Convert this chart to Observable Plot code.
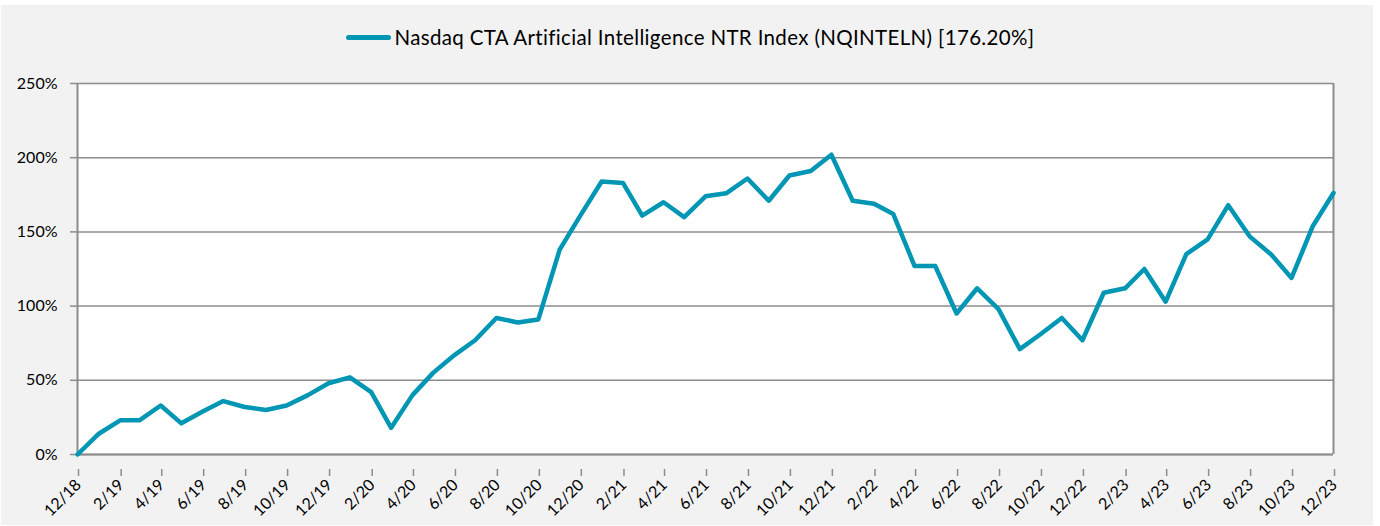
<!DOCTYPE html>
<html><head><meta charset="utf-8">
<script src="https://cdn.jsdelivr.net/npm/d3@7"></script>
<script src="https://cdn.jsdelivr.net/npm/@observablehq/plot@0.6"></script>
<style>
body{margin:0;background:#fff;width:1380px;height:526px;position:relative;overflow:hidden;font-family:Lato,sans-serif}
#bg{position:absolute;left:1px;top:5px;width:1372px;height:520px;background:#f2f2f2}
#legend{position:absolute;top:25px;left:0;width:1380px;display:flex;justify-content:center;align-items:center;font-size:20.5px;letter-spacing:0.35px;color:#000;white-space:nowrap}
#legend .sw{width:45px;height:5px;border-radius:3px;background:#0096b4;margin-right:4px}
#chart{position:absolute;left:0;top:70px}
</style></head>
<body>
<div id="bg"></div>
<div id="legend"><span class="sw"></span><span id="legendText"></span></div>
<div id="chart"></div>
<script>
const seriesName = "Nasdaq CTA Artificial Intelligence NTR Index (NQINTELN) [176.20%]";
const startYear = 2018, startMonth = 12;
// cumulative return, %, monthly from 12/18 to 12/23
const returnsPct = [
  0, 14, 23, 23, 33, 21, 29, 36, 32, 30, 33, 40,
  48, 52, 42, 18, 40, 55, 67, 77, 92, 89, 91, 138,
  161, 184, 183, 161, 170, 160, 174, 176, 186, 171, 188, 191,
  202, 171, 169, 162, 127, 127, 95, 112, 98, 71, 81, 92,
  77, 109, 112, 125, 103, 135, 145, 168, 147, 135, 119, 154,
  176.2
];
const yTicks = [0, 50, 100, 150, 200, 250];

document.getElementById("legendText").textContent = seriesName;

const start = new Date(Date.UTC(startYear, startMonth - 1, 1));
const dates = returnsPct.map((_, i) => d3.utcMonth.offset(start, i));
const data = returnsPct.map((v, i) => ({date: dates[i], value: v}));
const tickDates = dates.filter((_, i) => i % 2 === 0);
const fmt = d => `${d.getUTCMonth() + 1}/${String(d.getUTCFullYear()).slice(2)}`;
const gray = "#8c8c8c";

const chart = Plot.plot({
  width: 1380, height: 456,
  marginTop: 13, marginBottom: 72, marginLeft: 77, marginRight: 47,
  style: {background: "transparent", fontFamily: "Lato, sans-serif", fontSize: "16px", color: "#000"},
  x: {type: "utc", domain: [dates[0], dates[dates.length - 1]]},
  y: {domain: [0, 250]},
  marks: [
    Plot.frame({fill: "white", stroke: null}),
    Plot.gridY(yTicks, {stroke: gray, strokeOpacity: 1, strokeWidth: 1.5}),
    Plot.ruleX([dates[0], dates[dates.length - 1]], {stroke: gray, strokeWidth: 2}),
    Plot.ruleY([0], {stroke: gray, strokeWidth: 2}),
    Plot.axisY(yTicks, {tickSize: 7, tickPadding: 13, tickFormat: d => d + "%", stroke: gray, strokeWidth: 1.5, label: null, fontSize: 16}),
    Plot.axisX(tickDates, {tickSize: 7, tickRotate: -45, tickFormat: fmt, stroke: gray, strokeWidth: 1.5, label: null, fontSize: 16, dx: 1, dy: 15}),
    Plot.line(data, {x: "date", y: "value", stroke: "#0096b4", strokeWidth: 4.5, strokeLinejoin: "round", strokeLinecap: "round"})
  ]
});
document.getElementById("chart").appendChild(chart);
</script>
</body></html>
